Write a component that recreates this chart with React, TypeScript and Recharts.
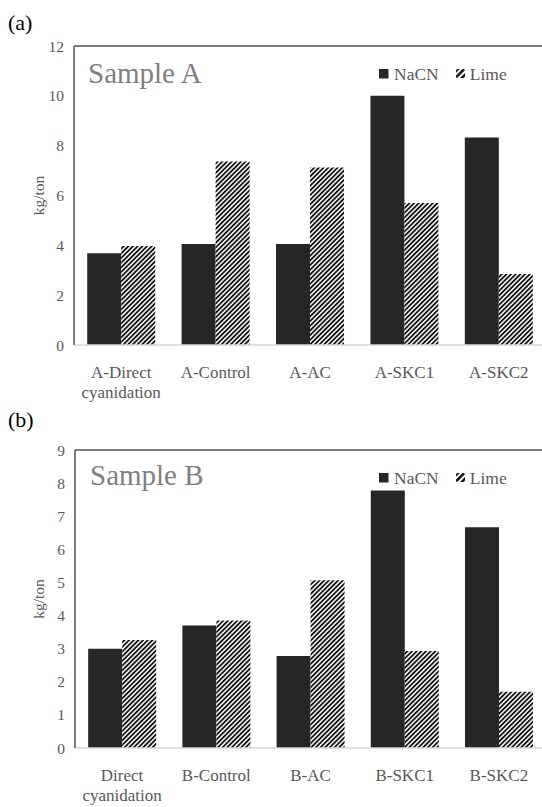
import { BarChart, Bar, XAxis, YAxis, ReferenceLine, Legend } from 'recharts';

const FONT = "'Liberation Serif', 'Times New Roman', Times, 'DejaVu Serif', serif";
const INK = '#262626';
const TEXT = '#595959';

const seriesNames = ['NaCN', 'Lime'];

const categoriesA = ['A-Direct\ncyanidation', 'A-Control', 'A-AC', 'A-SKC1', 'A-SKC2'];
const nacnA = [3.68, 4.05, 4.05, 10.0, 8.33];
const limeA = [3.97, 7.36, 7.12, 5.7, 2.85];
const ticksA = [0, 2, 4, 6, 8, 10, 12];

const categoriesB = ['Direct\ncyanidation', 'B-Control', 'B-AC', 'B-SKC1', 'B-SKC2'];
const nacnB = [3.0, 3.7, 2.78, 7.78, 6.67];
const limeB = [3.26, 3.85, 5.07, 2.93, 1.7];
const ticksB = [0, 1, 2, 3, 4, 5, 6, 7, 8, 9];

function HatchDefs() {
  return (
    <svg width={0} height={0} style={{ position: 'absolute' }}>
      <defs>
        <pattern id="hatch" patternUnits="userSpaceOnUse" width={3.3} height={3.3} patternTransform="rotate(45)">
          <rect width={3.3} height={3.3} fill="#fff" />
          <rect width={1.8} height={3.3} fill="#111" />
        </pattern>
        <pattern id="hatchIcon" patternUnits="userSpaceOnUse" width={4.6} height={4.6} patternTransform="rotate(45)">
          <rect width={4.6} height={4.6} fill="#fff" />
          <rect width={2.6} height={4.6} fill="#111" />
        </pattern>
      </defs>
    </svg>
  );
}

function CategoryTick({ x, y, payload }: any) {
  const lines = String(payload.value).split('\n');
  return (
    <text x={x} y={y} textAnchor="middle" fill={TEXT} fontSize={17} style={{ fontFamily: FONT }}>
      {lines.map((line, i) => (
        <tspan key={i} x={x} dy={i === 0 ? 33 : 19.5}>
          {line}
        </tspan>
      ))}
    </text>
  );
}

function LegendBox() {
  return (
    <div style={{ display: 'flex', alignItems: 'center', fontFamily: FONT, fontSize: 17.5, color: TEXT, lineHeight: '20px' }}>
      <svg width={10} height={10} style={{ marginRight: 5 }}>
        <rect width={9.5} height={9.5} fill={INK} />
      </svg>
      <span>{seriesNames[0]}</span>
      <svg width={10} height={10} style={{ marginLeft: 17, marginRight: 4 }}>
        <rect width={9} height={9} rx={1.5} fill="url(#hatchIcon)" />
      </svg>
      <span>{seriesNames[1]}</span>
    </div>
  );
}

function AxisTitle({ viewBox }: any) {
  const cx = viewBox.x + 44;
  const cy = viewBox.y + viewBox.height / 2;
  return (
    <text x={cx} y={cy} transform={`rotate(-90 ${cx} ${cy})`} textAnchor="middle" fill={TEXT} fontSize={15.5} style={{ fontFamily: FONT }}>
      kg/ton
    </text>
  );
}

interface PanelProps {
  top: number;
  categories: string[];
  nacn: number[];
  lime: number[];
  ticks: number[];
  yAxisWidth: number;
  plotBottom: number;
}

function Panel({ top, categories, nacn, lime, ticks, yAxisWidth, plotBottom }: PanelProps) {
  const rows = categories.map((name, i) => ({ name, nacn: nacn[i], lime: lime[i] }));
  const yMax = ticks[ticks.length - 1];
  const axisHeight = 62;
  return (
    <div style={{ position: 'absolute', left: 0, top }}>
      <BarChart
        width={546}
        height={plotBottom + axisHeight}
        data={rows}
        margin={{ top: 46, right: 0, left: 0, bottom: 0 }}
        barCategoryGap="14%"
        barGap={0}
        style={{ fontFamily: FONT }}
      >
        <XAxis
          dataKey="name"
          interval={0}
          height={axisHeight}
          tickSize={0}
          tickMargin={0}
          tickLine={false}
          axisLine={{ stroke: '#d9d9d9', strokeWidth: 1.5 }}
          tick={<CategoryTick />}
        />
        <YAxis
          type="number"
          domain={[0, yMax]}
          ticks={ticks}
          width={yAxisWidth}
          tickSize={0}
          tickMargin={10}
          tickLine={false}
          axisLine={{ stroke: '#555', strokeWidth: 1.5 }}
          tick={{ fill: TEXT, fontSize: 15.5, style: { fontFamily: FONT } }}
          label={{ content: AxisTitle }}
        />
        <ReferenceLine y={yMax} stroke="#555" strokeWidth={1.5} />
        {/* centred + middle keeps the legend from reserving space around the plot */}
        <Legend
          layout="horizontal"
          verticalAlign="middle"
          align="center"
          wrapperStyle={{ left: 379, top: 64, width: 'auto' }}
          content={() => <LegendBox />}
        />
        <Bar dataKey="nacn" name={seriesNames[0]} fill={INK} isAnimationActive={false} />
        <Bar dataKey="lime" name={seriesNames[1]} fill="url(#hatch)" isAnimationActive={false} />
      </BarChart>
    </div>
  );
}

export default function App() {
  return (
    <div
      style={{
        position: 'absolute',
        left: 0,
        top: 0,
        width: 542,
        height: 807,
        overflow: 'hidden',
        background: '#fff',
        fontFamily: FONT,
      }}
    >
      <HatchDefs />
      <Panel top={0} categories={categoriesA} nacn={nacnA} lime={limeA} ticks={ticksA} yAxisWidth={74} plotBottom={345} />
      <Panel top={404} categories={categoriesB} nacn={nacnB} lime={limeB} ticks={ticksB} yAxisWidth={75} plotBottom={344} />
      <svg width={542} height={807} style={{ position: 'absolute', left: 0, top: 0, pointerEvents: 'none', fontFamily: FONT }}>
        <text x={8} y={30} fontSize={22} fill="#000">(a)</text>
        <text x={8} y={427} fontSize={22} fill="#000">(b)</text>
        <text x={88} y={83} fontSize={29} fill="#7f7f7f">Sample A</text>
        <text x={90} y={485} fontSize={29} fill="#7f7f7f">Sample B</text>
      </svg>
    </div>
  );
}
